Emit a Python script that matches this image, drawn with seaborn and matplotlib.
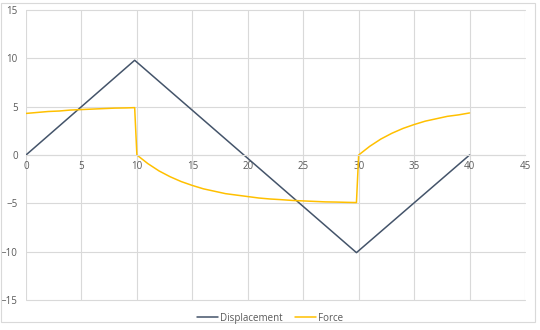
import matplotlib
matplotlib.use("Agg")
import matplotlib.pyplot as plt
import seaborn as sns
import pandas as pd
from matplotlib.patches import Rectangle

sns.set_theme(style="white")
plt.rcParams['font.family'] = ['Open Sans', 'DejaVu Sans']

disp_x = [0, 9.8, 29.8, 40]
disp_y = [0, 9.8, -10.1, 0]

force_x = [0, 1, 2, 3, 4, 5, 6, 7, 8, 9, 9.8,
           10, 11, 12, 13, 14, 15, 16, 17, 18, 19, 20, 21, 22, 23, 24, 25, 26, 27, 28, 29, 29.8,
           30, 31, 32, 33, 34, 35, 36, 37, 38, 39, 40]
force_y = [4.3, 4.4, 4.5, 4.55, 4.65, 4.7, 4.75, 4.8, 4.85, 4.87, 4.9,
           0, -0.9, -1.65, -2.25, -2.75, -3.15, -3.5, -3.75, -4.0, -4.15, -4.3, -4.45, -4.55, -4.62, -4.7, -4.75, -4.8, -4.85, -4.87, -4.9, -4.92,
           0, 0.9, 1.65, 2.25, 2.75, 3.15, 3.5, 3.75, 4.0, 4.15, 4.35]

x_ticks = [0, 5, 10, 15, 20, 25, 30, 35, 40, 45]
y_ticks = [-15, -10, -5, 0, 5, 10, 15]

df = pd.concat([
    pd.DataFrame({"x": disp_x, "y": disp_y, "series": "Displacement"}),
    pd.DataFrame({"x": force_x, "y": force_y, "series": "Force"}),
], ignore_index=True)

fig = plt.figure(figsize=(5.4, 3.3), dpi=100)
ax = fig.add_axes([26/540, 1-300/330, (525-26)/540, 290/330])

sns.lineplot(data=df, x="x", y="y", hue="series", sort=False, estimator=None,
             palette={"Displacement": "#44546A", "Force": "#FFC000"},
             linewidth=1.1, ax=ax, legend=True)

ax.set_xlim(0, 45)
ax.set_ylim(-15, 15)
ax.set_xticks(x_ticks)
ax.set_yticks(y_ticks)
ax.set_xlabel("")
ax.set_ylabel("")
ax.grid(True, color="#D9D9D9", linewidth=0.8)
ax.set_axisbelow(True)
for gl in ax.get_xgridlines() + ax.get_ygridlines():
    gl.set_clip_on(False)
for s in ["top", "right", "left"]:
    ax.spines[s].set_visible(False)
ax.spines["bottom"].set_position(("data", 0))
ax.spines["bottom"].set_color("#D9D9D9")
ax.spines["bottom"].set_linewidth(0.8)
ax.tick_params(axis="both", length=0, labelsize=7, labelcolor="#595959")
ax.tick_params(axis="x", pad=4)
ax.tick_params(axis="y", pad=6)

h, l = ax.get_legend_handles_labels()
ax.get_legend().remove()
fig.legend(h, l, loc="center", bbox_to_anchor=(0.5, 0.036), ncol=2, frameon=False,
           fontsize=7, labelcolor="#595959", handlelength=2.2, handletextpad=0.2,
           columnspacing=1.2)

fig.patches.append(Rectangle((1/540, 1-322/330), 534/540, 319/330, transform=fig.transFigure,
                             fill=False, edgecolor="#D9D9D9", linewidth=0.8))

fig.savefig("out.png", dpi=100)
